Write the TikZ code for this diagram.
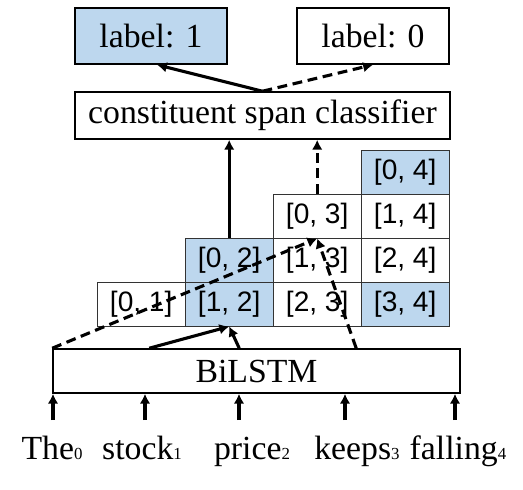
\documentclass[tikz,border=0pt]{standalone}
\usepackage{fontspec}
\setmainfont{Liberation Serif}
\newfontfamily\cellfont{Liberation Sans}
\usepackage{tikz}
\usepackage{xcolor}
\usetikzlibrary{positioning, arrows.meta}
\definecolor{spanblue}{RGB}{189,215,238}
\newcommand{\idx}[1]{{\fontsize{12}{14}\selectfont #1}}

\tikzset{
    box/.style={draw, line width=1.1pt, inner sep=0pt, font=\fontsize{24}{28}\selectfont},
    cell/.style={draw=black!80, line width=0.7pt, minimum width=2.2cm, minimum height=1.1cm,
        inner sep=0pt, font=\cellfont\fontsize{20}{24}\selectfont},
    word/.style={anchor=base, inner sep=0pt, font=\fontsize{24}{28}\selectfont},
    link/.style={line width=2.2pt, -{Latex[length=7pt,width=7.5pt]}},
    nolink/.style={link, dash pattern=on 7pt off 4pt}
}

\begin{document}
\begin{tikzpicture}
    \useasboundingbox (0,0) rectangle (13.075,12.225);

    % output labels and classifier
    \node[box, fill=spanblue, minimum width=3.8cm, minimum height=1.4cm] (lab1) at (3.775,11.325) {label: 1};
    \node[box, minimum width=3.8cm, minimum height=1.4cm] (lab0) at (9.325,11.325) {label: 0};
    \node[box, minimum width=9.375cm, minimum height=1.175cm] (cls) at (6.5625,9.3375) {constituent span classifier};

    % span chart
    \foreach \i/\j/\c in {0/1/white, 1/2/spanblue, 2/3/white, 3/4/spanblue,
                          0/2/spanblue, 1/3/white, 2/4/white,
                          0/3/white, 1/4/white, 0/4/spanblue}
        \node[cell, fill=\c] (s\i\j) at ({3.53+2.2*(\j-1)}, {4.625+1.1*(\j-\i-1)}) {[\i, \j]};

    % encoder and input words
    \node[box, minimum width=10.175cm, minimum height=1.1cm] (bil) at (6.4125,2.95) {BiLSTM};
    \foreach \k/\w/\x/\a in {0/The/1.3/1.325, 1/stock/3.55/3.625, 2/price/6.3/5.975,
                             3/keeps/8.925/8.625, 4/falling/11.45/11.375} {
        \node[word] (w\k) at (\x,0.75) {\w\idx{\k}};
        \coordinate (a\k) at (\a,1.72);
        \draw[link] (a\k) -- (a\k |- bil.south);
    }

    % span representations
    \draw[nolink] (bil.north west) -- (s03.south);
    \draw[link] ([xshift=2.425cm]bil.north west) -- (s12.south);
    \draw[link] ([xshift=4.675cm]bil.north west) -- (s12.south);
    \draw[nolink] ([xshift=7.6cm]bil.north west) -- (s03.south);

    % classify spans
    \draw[link] (s02.north) -- (s02.north |- cls.south);
    \draw[nolink] (s03.north) -- (s03.north |- cls.south);
    \draw[link] (cls.north) -- ([xshift=0.15cm]lab1.south);
    \draw[nolink] (cls.north) -- (lab0.south);
\end{tikzpicture}
\end{document}
